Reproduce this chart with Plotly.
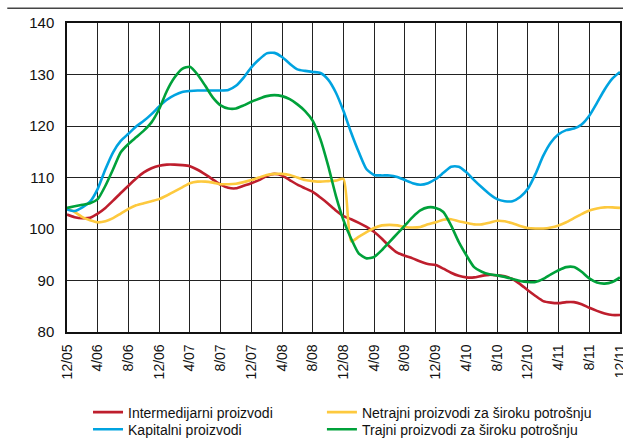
import plotly.graph_objects as go

# monthly index, 12/2005 .. 12/2011
months = list(range(73))
tick_pos = list(range(0, 73, 4))
tick_labels = ["12/05", "4/06", "8/06", "12/06", "4/07", "8/07", "12/07", "4/08", "8/08",
               "12/08", "4/09", "8/09", "12/09", "4/10", "8/10", "12/10", "4/11", "8/11", "12/11"]

intermedijarni = [102.8, 102.3, 102.1, 102.2, 103.0, 104.1, 105.5, 107.0, 108.4, 109.8, 111.0, 111.8,
                  112.3, 112.5, 112.5, 112.4, 112.2, 111.5, 110.6, 109.6, 108.6, 108.0, 107.9, 108.4,
                  108.9, 109.5, 110.3, 110.7, 110.4, 109.5, 108.6, 107.9, 107.2, 106.1, 104.9, 103.6,
                  102.5, 101.9, 101.2, 100.4, 99.4, 98.1, 96.6, 95.4, 94.8, 94.3, 93.7, 93.2,
                  93.0, 92.3, 91.5, 90.9, 90.6, 90.6, 90.9, 91.1, 91.0, 90.8, 90.3, 89.3,
                  88.1, 87.0, 86.0, 85.7, 85.6, 85.8, 85.8, 85.4, 84.7, 84.1, 83.6, 83.3, 83.3]

kapitalni = [103.8, 103.5, 104.2, 105.3, 107.8, 111.6, 114.9, 117.1, 118.5, 119.9, 121.0, 122.3,
             123.8, 125.1, 126.0, 126.6, 126.8, 126.9, 126.9, 126.9, 126.9, 127.0, 127.8, 129.4,
             131.4, 132.9, 134.1, 134.2, 133.4, 132.1, 131.0, 130.7, 130.5, 130.3, 129.0, 126.5,
             122.9, 118.7, 114.9, 111.6, 110.5, 110.4, 110.4, 110.1, 109.5, 108.9, 108.6, 108.9,
             109.7, 110.9, 112.1, 112.1, 111.0, 109.5, 108.1, 106.8, 105.8, 105.4, 105.4, 106.2,
             107.8, 110.7, 114.2, 116.8, 118.4, 119.2, 119.5, 120.3, 122.0, 124.5, 127.1, 129.2, 130.5]

netrajni = [104.0, 103.3, 102.3, 101.7, 101.3, 101.5, 102.1, 103.0, 103.9, 104.6, 105.0, 105.4,
            105.8, 106.5, 107.3, 108.1, 108.9, 109.2, 109.2, 109.0, 108.7, 108.7, 108.8, 109.1,
            109.5, 110.0, 110.5, 110.7, 110.7, 110.5, 110.0, 109.5, 109.3, 109.2, 109.3, 109.4,
            109.7, 97.6, 98.5, 99.4, 100.2, 100.7, 100.8, 100.7, 100.4, 100.3, 100.4, 100.9,
            101.3, 101.8, 101.9, 101.5, 101.2, 100.9, 100.9, 101.2, 101.6, 101.5, 101.1, 100.6,
            100.2, 100.1, 100.1, 100.3, 100.7, 101.3, 102.1, 102.9, 103.6, 104.0, 104.2, 104.2, 104.1]

trajni = [104.1, 104.4, 104.7, 105.0, 105.8, 108.4, 111.6, 114.9, 116.5, 117.8, 119.1, 120.7,
          123.3, 126.8, 129.4, 131.1, 131.5, 130.0, 127.8, 125.5, 124.0, 123.4, 123.4, 124.0,
          124.7, 125.3, 125.8, 126.0, 125.8, 125.2, 124.2, 122.9, 121.0, 117.4, 112.3, 106.5,
          101.7, 98.1, 95.2, 94.3, 94.6, 95.9, 97.5, 99.1, 100.7, 102.3, 103.6, 104.2,
          104.1, 103.3, 100.7, 97.5, 94.9, 92.6, 91.7, 91.2, 91.0, 90.7, 90.3, 89.9,
          89.7, 89.7, 90.3, 91.2, 92.0, 92.6, 92.6, 91.7, 90.4, 89.6, 89.4, 89.7, 90.6]

font = "Liberation Sans, Arial, sans-serif"

fig = go.Figure()
series = [
    ("Intermedijarni proizvodi", intermedijarni, "#BE1E2D", "legend"),
    ("Netrajni proizvodi za široku potrošnju", netrajni, "#FDC93E", "legend2"),
    ("Kapitalni proizvodi", kapitalni, "#00A3E0", "legend3"),
    ("Trajni proizvodi za široku potrošnju", trajni, "#00A13A", "legend4"),
]
for name, vals, col, leg in series:
    fig.add_trace(go.Scatter(x=months, y=vals, name=name, mode="lines", legend=leg,
                             line=dict(color=col, width=2.6, shape="spline", smoothing=0.6)))

fig.update_xaxes(range=[0, 72], tickvals=tick_pos, ticktext=tick_labels, tickangle=-90,
                 showgrid=True, gridcolor="#222", gridwidth=1.2, showline=True, linecolor="#111",
                 linewidth=1.5, mirror=True, ticks="outside", ticklen=5,
                 tickcolor="rgba(0,0,0,0)", zeroline=False, automargin=False,
                 ticklabeloverflow="allow", tickfont=dict(size=14, color="#111"))
fig.update_yaxes(range=[80, 140], dtick=10, showgrid=True, gridcolor="#222", gridwidth=1.2,
                 showline=True, linecolor="#111", linewidth=1.5, mirror=True, ticks="outside",
                 ticklen=8, tickcolor="rgba(0,0,0,0)", zeroline=False, automargin=False,
                 tickfont=dict(size=15, color="#111"))

# top rule
fig.add_shape(type="line", xref="paper", yref="paper", x0=-0.108, x1=1.01, y0=1.048, y1=1.048,
              line=dict(color="#444", width=1.5))

def leg(x, y):
    return dict(x=x, y=y, xanchor="left", yanchor="middle", orientation="v",
                itemwidth=30, bgcolor="rgba(0,0,0,0)", font=dict(size=14, color="#111"))

fig.update_layout(
    width=623, height=448,
    margin=dict(l=67, r=3, t=23, b=114),
    paper_bgcolor="white", plot_bgcolor="white",
    font=dict(family=font, color="#111"),
    showlegend=True,
    legend=leg(0.038, -0.2605),
    legend2=leg(0.461, -0.2605),
    legend3=leg(0.038, -0.316),
    legend4=leg(0.461, -0.316),
)

# drop the default 8px page margin so the figure sits at the window corner
fig.write_html("out.html", config={"displayModeBar": False},
               post_script="document.body.style.margin='0';")
